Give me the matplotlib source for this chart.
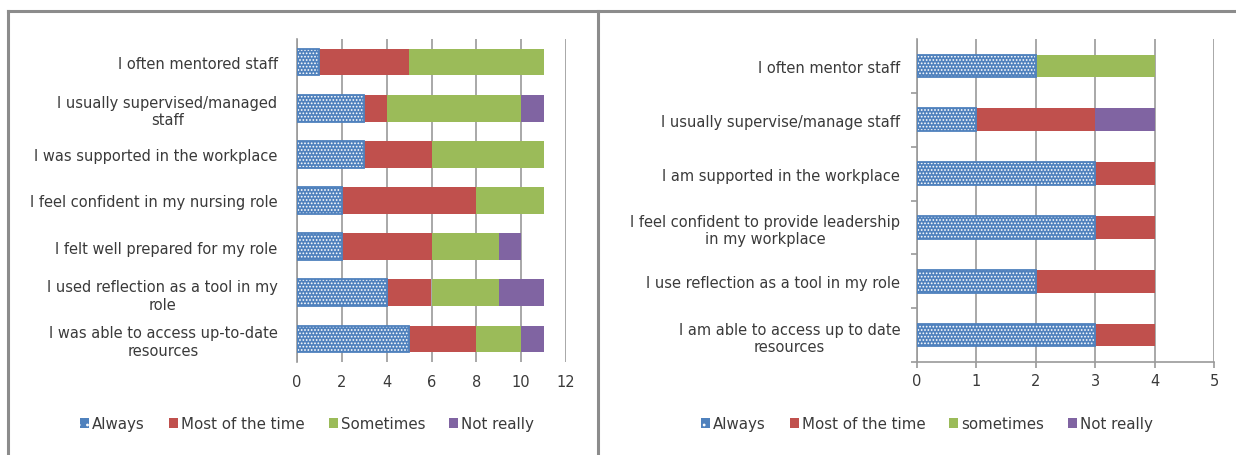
import numpy as np
import matplotlib.pyplot as plt
from matplotlib.patches import Patch
from matplotlib.lines import Line2D

# left chart: past experience
left_labels = ["I often mentored staff",
               "I usually supervised/managed\nstaff",
               "I was supported in the workplace",
               "I feel confident in my nursing role",
               "I felt well prepared for my role",
               "I used reflection as a tool in my\nrole",
               "I was able to access up-to-date\nresources"]
left_always = [1, 3, 3, 2, 2, 4, 5]
left_most = [4, 1, 3, 6, 4, 2, 3]
left_some = [6, 6, 5, 3, 3, 3, 2]
left_not = [0, 1, 0, 0, 1, 2, 1]
left_names = ["Always", "Most of the time", "Sometimes", "Not really"]

# right chart: current role
right_labels = ["I often mentor staff",
                "I usually supervise/manage staff",
                "I am supported in the workplace",
                "I feel confident to provide leadership\nin my workplace",
                "I use reflection as a tool in my role",
                "I am able to access up to date\nresources"]
right_always = [2, 1, 3, 3, 2, 3]
right_most = [0, 2, 1, 1, 2, 1]
right_some = [2, 0, 0, 0, 0, 0]
right_not = [0, 1, 0, 0, 0, 0]
right_names = ["Always", "Most of the time", "sometimes", "Not really"]

colors = ["#4F81BD", "#C0504D", "#9BBB59", "#8064A2"]
grid_c = "#9a9a9a"
text_c = "#3a3a3a"
HATCH = "....."

plt.rcParams['font.family'] = ['DejaVu Sans']
plt.rcParams['hatch.linewidth'] = 0.8

W, H = 1236, 456
fig = plt.figure(figsize=(W / 100, H / 100), dpi=100)

# panel frames
for xs, ys in [([8, W], [H - 12, H - 12]), ([8, 8], [H - 12, 0]), ([598, 598], [H - 12, 0])]:
    fig.add_artist(Line2D(np.array(xs) / W, np.array(ys) / H, color="#8c8c8c", lw=2.2,
                          transform=fig.transFigure))


def stacked(ax, labels, series, height, xmax, step):
    y = np.arange(len(labels))
    left = np.zeros(len(labels))
    for i, vals in enumerate(series):
        vals = np.array(vals, dtype=float)
        if i == 0:
            ax.barh(y, vals, left=left, height=height, facecolor=colors[0], edgecolor="white",
                    hatch=HATCH, lw=0, zorder=3)
            ax.barh(y, vals, left=left, height=height, facecolor="none", edgecolor=colors[0],
                    lw=1.3, zorder=4)
        else:
            ax.barh(y, vals, left=left, height=height, color=colors[i], lw=0, zorder=3)
        left += vals
    ax.set_xlim(0, xmax)
    ax.set_xticks(np.arange(0, xmax + 0.1, step))
    ax.set_ylim(len(labels) - 0.5, -0.5)
    ax.set_yticks(y)
    ax.set_yticklabels(labels)
    for t in ax.get_yticklabels():
        t.set_multialignment("center")
    ax.grid(axis="x", color=grid_c, lw=1.2, zorder=0)
    for s in ["top", "right"]:
        ax.spines[s].set_visible(False)
    ax.spines["left"].set_color(grid_c)
    ax.spines["left"].set_linewidth(1.2)
    ax.tick_params(axis="both", labelsize=10.5, labelcolor=text_c, color=grid_c)
    ax.tick_params(axis="y", length=0, pad=14)


ax1 = fig.add_axes([297 / W, 1 - 363 / H, 269 / W, 323 / H])
stacked(ax1, left_labels, [left_always, left_most, left_some, left_not], 0.58, 12, 2)
ax1.spines["bottom"].set_visible(False)
ax1.tick_params(axis="x", length=0, pad=9)

ax2 = fig.add_axes([917 / W, 1 - 363 / H, 297 / W, 323 / H])
stacked(ax2, right_labels, [right_always, right_most, right_some, right_not], 0.42, 5, 1)
ax2.spines["bottom"].set_color(grid_c)
ax2.spines["bottom"].set_linewidth(1.2)
ax2.tick_params(axis="x", length=4, width=1.2, direction="out", pad=4)
ax2.set_yticks(np.arange(1, len(right_labels) + 1) - 0.5, minor=True)
ax2.tick_params(axis="y", which="minor", length=4, width=1.2, color=grid_c)
ax2.tick_params(axis="y", pad=12)


def legend_at(names, xc):
    handles = [Patch(facecolor=colors[0], edgecolor="white", hatch="..", lw=0)]
    handles += [Patch(facecolor=c, lw=0) for c in colors[1:]]
    fig.legend(handles, names, loc="center", bbox_to_anchor=(xc / W, 1 - 425 / H),
               ncol=4, frameon=False, fontsize=10.8, labelcolor=text_c,
               handlelength=0.6, handleheight=0.6, handletextpad=0.2, columnspacing=1.6)


legend_at(left_names, 307)
legend_at(right_names, 927)

fig.savefig("out.png", dpi=100)
